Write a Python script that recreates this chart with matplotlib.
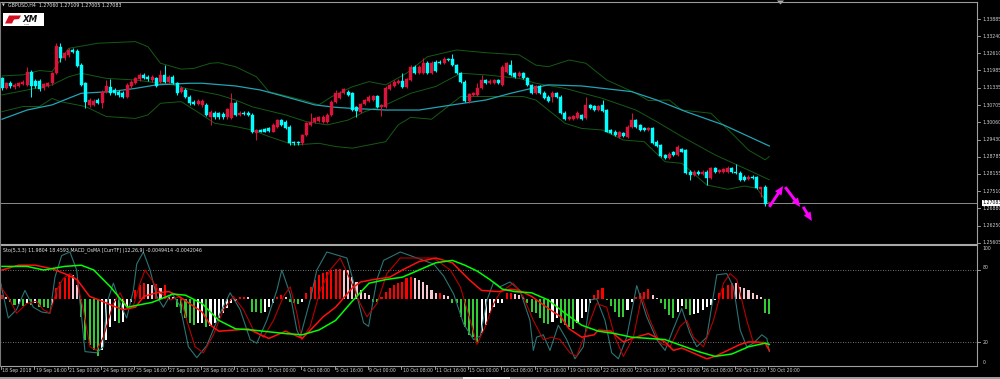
import matplotlib
matplotlib.use("Agg")
import matplotlib.pyplot as plt
import matplotlib.transforms as mtransforms
from matplotlib.lines import Line2D
from matplotlib.patches import Rectangle, Polygon, FancyArrowPatch
import numpy as np

# ---------------- DATA ----------------
symbol_header = "GBPUSD,H4  1.27060 1.27109 1.27005 1.27083"
sub_header = "Sto(5,3,3) 11.9804 18.4593 MACD_OsMA [CurrTF] (12,26,9) -0.0049414 -0.0042046"
current_price = 1.27083

open_ = [1.3169,1.3132,1.3153,1.3136,1.3141,1.3148,1.3145,1.3194,1.3161,1.3161,
 1.3132,1.3141,1.3151,1.3188,1.3286,1.3243,1.3256,1.3274,1.3272,1.3219,
 1.3151,1.3071,1.3071,1.3089,1.3077,1.3120,1.3136,1.3126,1.3120,1.3116,
 1.3102,1.3139,1.3153,1.3166,1.3182,1.3175,1.3163,1.3169,1.3157,1.3182,
 1.3157,1.3175,1.3151,1.3120,1.3126,1.3102,1.3083,1.3074,1.3071,1.3071,
 1.3028,1.3042,1.3040,1.3038,1.3025,1.3021,1.3079,1.3034,1.3042,1.3042,
 1.3034,1.2966,1.2978,1.2981,1.2985,1.2972,1.2991,1.3015,1.3009,1.2991,
 1.2935,1.2932,1.2929,1.2960,1.2997,1.3009,1.3013,1.3009,1.3009,1.3034,
 1.3083,1.3095,1.3114,1.3120,1.3114,1.3062,1.3046,1.3074,1.3087,1.3089,
 1.3104,1.3062,1.3065,1.3129,1.3141,1.3151,1.3161,1.3136,1.3163,1.3212,
 1.3190,1.3190,1.3227,1.3188,1.3231,1.3231,1.3225,1.3240,1.3240,1.3219,
 1.3188,1.3157,1.3087,1.3108,1.3108,1.3132,1.3163,1.3151,1.3151,1.3163,
 1.3145,1.3194,1.3219,1.3188,1.3178,1.3188,1.3169,1.3145,1.3114,1.3141,
 1.3116,1.3102,1.3102,1.3114,1.3102,1.3042,1.3018,1.3018,1.3021,1.3034,
 1.3021,1.3071,1.3067,1.3052,1.3071,1.3052,1.2978,1.2972,1.2954,1.2966,
 1.2954,1.2991,1.3015,1.2997,1.2985,1.2978,1.2985,1.2935,1.2923,1.2886,
 1.2874,1.2895,1.2886,1.2907,1.2904,1.2824,1.2812,1.2824,1.2816,1.2824,
 1.2800,1.2837,1.2822,1.2824,1.2824,1.2837,1.2824,1.2821,1.2806,1.2796,
 1.2806,1.2803,1.2759,1.2769,1.27060]
close = [1.3132,1.3151,1.3139,1.3145,1.3151,1.3157,1.3194,1.3139,1.3139,1.3129,
 1.3148,1.3151,1.3188,1.3290,1.3243,1.3262,1.3274,1.3268,1.3215,1.3145,
 1.3083,1.3089,1.3087,1.3079,1.3120,1.3139,1.3114,1.3114,1.3108,1.3102,
 1.3145,1.3157,1.3169,1.3182,1.3169,1.3166,1.3175,1.3139,1.3182,1.3157,
 1.3175,1.3151,1.3114,1.3132,1.3102,1.3077,1.3074,1.3087,1.3087,1.3034,
 1.3046,1.3025,1.3025,1.3028,1.3055,1.3079,1.3034,1.3042,1.3038,1.3034,
 1.2969,1.2978,1.2972,1.2972,1.2976,1.2997,1.3015,1.2997,1.2985,1.2929,
 1.2929,1.2929,1.2960,1.3003,1.3009,1.3021,1.3025,1.3028,1.3034,1.3083,
 1.3114,1.3116,1.3129,1.3108,1.3052,1.3050,1.3074,1.3089,1.3102,1.3104,
 1.3065,1.3071,1.3132,1.3145,1.3157,1.3161,1.3136,1.3166,1.3212,1.3188,
 1.3212,1.3225,1.3188,1.3227,1.3198,1.3225,1.3240,1.3237,1.3219,1.3188,
 1.3157,1.3087,1.3111,1.3114,1.3132,1.3163,1.3151,1.3161,1.3163,1.3151,
 1.3212,1.3225,1.3182,1.3175,1.3190,1.3169,1.3145,1.3114,1.3141,1.3114,
 1.3095,1.3087,1.3116,1.3102,1.3040,1.3018,1.3025,1.3030,1.3042,1.3018,
 1.3071,1.3058,1.3052,1.3067,1.3050,1.2972,1.2966,1.2960,1.2969,1.2956,
 1.2991,1.3015,1.2991,1.2978,1.2978,1.2985,1.2929,1.2919,1.2882,1.2874,
 1.2890,1.2886,1.2917,1.2898,1.2821,1.2812,1.2824,1.2816,1.2824,1.2800,
 1.2837,1.2824,1.2830,1.2834,1.2839,1.2824,1.2818,1.2794,1.2794,1.2806,
 1.2800,1.2763,1.2766,1.2705,1.27083]
high = [1.3175,1.3157,1.3161,1.3151,1.3157,1.3163,1.3212,1.3200,1.3166,1.3166,
 1.3153,1.3156,1.3193,1.3299,1.3299,1.3268,1.3280,1.3280,1.3277,1.3225,
 1.3157,1.3095,1.3092,1.3095,1.3126,1.3163,1.3166,1.3132,1.3126,1.3123,
 1.3151,1.3163,1.3175,1.3188,1.3188,1.3180,1.3180,1.3175,1.3200,1.3219,
 1.3180,1.3180,1.3157,1.3139,1.3132,1.3107,1.3089,1.3092,1.3092,1.3077,
 1.3052,1.3047,1.3045,1.3045,1.3060,1.3114,1.3084,1.3047,1.3047,1.3047,
 1.3040,1.2983,1.2983,1.2986,1.2988,1.3003,1.3020,1.3020,1.3015,1.2996,
 1.2939,1.2939,1.2964,1.3008,1.3040,1.3028,1.3030,1.3033,1.3040,1.3089,
 1.3126,1.3121,1.3134,1.3126,1.3119,1.3067,1.3079,1.3094,1.3107,1.3109,
 1.3109,1.3074,1.3139,1.3151,1.3163,1.3166,1.3188,1.3171,1.3217,1.3217,
 1.3217,1.3243,1.3232,1.3232,1.3237,1.3236,1.3249,1.3245,1.3259,1.3224,
 1.3193,1.3163,1.3116,1.3119,1.3151,1.3182,1.3168,1.3166,1.3168,1.3168,
 1.3217,1.3231,1.3237,1.3193,1.3195,1.3193,1.3174,1.3150,1.3146,1.3146,
 1.3121,1.3107,1.3121,1.3119,1.3107,1.3047,1.3030,1.3035,1.3047,1.3039,
 1.3102,1.3076,1.3072,1.3072,1.3089,1.3057,1.2983,1.2977,1.2973,1.2971,
 1.2996,1.3042,1.3020,1.3002,1.2989,1.2989,1.2989,1.2940,1.2928,1.2891,
 1.2895,1.2900,1.2922,1.2912,1.2909,1.2829,1.2829,1.2829,1.2829,1.2829,
 1.2843,1.2842,1.2835,1.2839,1.2844,1.2842,1.2853,1.2826,1.2811,1.2811,
 1.2811,1.2808,1.2769,1.2774,1.27109]
low = [1.3126,1.3129,1.3132,1.3129,1.3136,1.3143,1.3141,1.3102,1.3132,1.3124,
 1.3126,1.3136,1.3145,1.3184,1.3231,1.3237,1.3249,1.3264,1.3210,1.3141,
 1.3058,1.3065,1.3067,1.3074,1.3058,1.3114,1.3108,1.3108,1.3102,1.3095,
 1.3098,1.3135,1.3148,1.3161,1.3166,1.3161,1.3157,1.3136,1.3153,1.3153,
 1.3153,1.3147,1.3108,1.3114,1.3098,1.3072,1.3070,1.3070,1.3065,1.3030,
 1.2997,1.3020,1.3020,1.3020,1.3020,1.3018,1.3030,1.3030,1.3033,1.3030,
 1.2966,1.2941,1.2969,1.2969,1.2972,1.2969,1.2987,1.2993,1.2981,1.2923,
 1.2924,1.2924,1.2924,1.2956,1.2993,1.3005,1.3008,1.3005,1.3005,1.3030,
 1.3079,1.3092,1.3110,1.3104,1.3049,1.3028,1.3042,1.3071,1.3083,1.3087,
 1.3061,1.3030,1.3061,1.3125,1.3137,1.3147,1.3132,1.3132,1.3160,1.3184,
 1.3187,1.3187,1.3184,1.3184,1.3194,1.3221,1.3221,1.3233,1.3215,1.3184,
 1.3153,1.3083,1.3079,1.3104,1.3104,1.3129,1.3147,1.3147,1.3147,1.3147,
 1.3141,1.3190,1.3178,1.3172,1.3174,1.3166,1.3141,1.3110,1.3110,1.3110,
 1.3092,1.3083,1.3083,1.3098,1.3036,1.3014,1.3014,1.3014,1.3018,1.3014,
 1.3018,1.3055,1.3049,1.3049,1.3046,1.2969,1.2962,1.2956,1.2950,1.2953,
 1.2950,1.2987,1.2987,1.2975,1.2975,1.2975,1.2925,1.2916,1.2879,1.2870,
 1.2870,1.2882,1.2882,1.2895,1.2817,1.2794,1.2808,1.2812,1.2812,1.2775,
 1.2796,1.2821,1.2818,1.2821,1.2821,1.2821,1.2815,1.2790,1.2790,1.2792,
 1.2796,1.2759,1.2732,1.2698,1.27005]

# Moving average (cyan) and Bollinger bands (dark green), read at sample bars
ma_x = [0,6,12,19,26,32,37,45,48,56,62,68,75,80,84,92,100,108,116,122,127,131,139,151,157,164,173,184]
ma_y = [1.3018,1.3052,1.3071,1.3114,1.3120,1.3132,1.3145,1.3151,1.3151,1.3141,1.3126,1.3101,1.3071,1.3062,
        1.3058,1.3052,1.3052,1.3071,1.3089,1.3114,1.3132,1.3145,1.3141,1.3120,1.3089,1.3046,1.2997,1.2919]
bbu_x = [0,5,9,12,16,23,32,35,38,43,46,50,52,56,61,64,72,76,79,84,88,92,97,102,109,116,124,128,131,136,140,145,
         152,155,160,163,170,175,179,183,184]
bbu_y = [1.3178,1.3182,1.3198,1.3194,1.3280,1.3299,1.3305,1.3286,1.3225,1.3203,1.3206,1.3225,1.3227,1.3212,1.3175,
         1.3120,1.3089,1.3071,1.3101,1.3138,1.3157,1.3145,1.3188,1.3249,1.3274,1.3264,1.3256,1.3218,1.3212,1.3237,
         1.3225,1.3163,1.3114,1.3087,1.3089,1.3052,1.3040,1.2966,1.2904,1.2868,1.2880]
bbm_x = [0,8,12,16,19,25,32,38,41,44,52,56,60,68,73,78,83,87,92,98,104,110,116,124,128,135,144,152,157,163,171,179,184]
bbm_y = [1.3108,1.3132,1.3145,1.3175,1.3188,1.3169,1.3163,1.3151,1.3145,1.3132,1.3108,1.3089,1.3064,1.3034,1.3009,
         1.2997,1.3015,1.3046,1.3071,1.3114,1.3139,1.3188,1.3182,1.3169,1.3151,1.3132,1.3095,1.3052,1.3009,1.2954,
         1.2886,1.2830,1.2794]
bbl_x = [0,5,9,12,14,20,25,32,35,38,43,48,51,56,60,64,70,76,80,84,88,92,95,98,103,110,116,125,128,135,139,144,149,
         154,159,163,169,174,178,181,183,184]
bbl_y = [1.3046,1.3065,1.3065,1.3095,1.3083,1.3065,1.3028,1.3021,1.3034,1.3077,1.3083,1.3034,1.3003,1.2991,1.2978,
         1.2954,1.2923,1.2929,1.2917,1.2911,1.2923,1.2935,1.2997,1.3025,1.3018,1.3102,1.3102,1.3102,1.3089,1.3003,
         1.2984,1.2978,1.2941,1.2935,1.2861,1.2855,1.2775,1.2759,1.2771,1.2763,1.2720,1.2708]

# forecast arrows (magenta): (bar, price) tail -> head
arrow_tail_x = [184.0, 187.8, 192.1]
arrow_tail_y = [1.2694, 1.2767, 1.2694]
arrow_head_x = [187.3, 191.4, 194.2]
arrow_head_y = [1.2771, 1.2694, 1.2642]

price_ticks = [1.33885,1.33240,1.32610,1.31985,1.31335,1.30705,1.30060,1.29430,1.28785,1.28155,1.27510,1.26880,1.26250,1.25605]
price_tick_labels = ["1.33885","1.33240","1.32610","1.31985","1.31335","1.30705","1.30060","1.29430","1.28785",
                     "1.28155","1.27510","1.26880","1.26250","1.25605"]

date_labels = ["18 Sep 2018","19 Sep 16:00","21 Sep 00:00","24 Sep 08:00","25 Sep 16:00","27 Sep 00:00",
               "28 Sep 08:00","1 Oct 16:00","3 Oct 00:00","4 Oct 08:00","5 Oct 16:00","9 Oct 00:00",
               "10 Oct 08:00","11 Oct 16:00","15 Oct 00:00","16 Oct 08:00","17 Oct 16:00","19 Oct 00:00",
               "22 Oct 08:00","23 Oct 16:00","25 Oct 00:00","26 Oct 08:00","29 Oct 12:00","30 Oct 20:00"]

# OsMA histogram (points, 1e-5)
osma = [9,5,-5,-11,-9,-13,-8,-11,-8,-15,
 -16,-17,-11,22,35,42,51,49,29,-35,
 -81,-91,-101,-113,-101,-81,-55,-43,-47,-45,
 -15,-5,19,29,32,31,29,30,22,29,
 5,4,-15,-28,-38,-48,-51,-48,-47,-55,
 -53,-48,-38,-28,-18,-8,-3,4,5,4,
 -25,-25,-27,-25,-15,-8,5,9,5,-5,
 -8,-9,-5,12,25,39,49,52,55,59,
 60,61,59,58,45,34,19,12,9,-5,
 -5,5,15,22,29,32,35,42,45,42,
 39,35,29,19,12,12,9,7,-8,-8,
 -35,-55,-71,-75,-85,-68,-51,-28,-15,-8,
 -7,12,12,11,9,5,-7,-25,-28,-38,
 -48,-49,-45,-38,-48,-51,-55,-60,-48,-38,
 -25,-7,9,19,22,-1,-13,-25,-35,-36,
 -21,-5,5,12,15,20,9,2,-8,-20,
 -31,-38,-25,-13,-20,-31,-30,-28,-21,-15,
 -11,-1,12,22,29,33,32,25,22,19,
 12,9,4,-28,-29]

# Stochastic main (teal)
sto_main_x = [-0.5,1.5,3.5,5.5,7.5,9.5,11.5,12.7,14.3,16.3,17.9,19.1,19.9,22.7,24.3,25.1,26.7,28.7,29.9,31.5,32.3,
 33.9,35.5,37.1,38.7,40.7,42.7,44.7,46.7,49.1,52.3,54.7,57.1,59.5,61.1,63.5,65.9,67.1,69.1,70.7,71.5,73.9,75.5,
 77.9,82.7,84.3,86.7,87.9,89.9,91.5,95.5,99.5,103.5,105.9,108.3,110.7,113.1,114.7,116.3,117.9,119.4,121.8,124.2,
 126.6,127.4,128.2,129.8,131.4,133.4,135.4,137.4,139.4,141,142.6,144.6,146.2,147.8,149.8,152.2,154.6,157,159,
 161,163,165,166.6,169,171.4,173.8,175.4,177,178.6,180.2,182.2,183.4,184]
sto_main_y = [72,40,47,63,49,45,44,74,92,95,80,40,12,11,16,52,69,49,40,63,85,
 95,80,58,49,61,50,16,7,17,44,61,47,22,19,38,63,80,60,30,24,55,80,
 95,90,70,36,33,72,88,95,90,85,75,60,35,22,25,55,70,66,70,63,
 38,13,24,26,13,34,22,6,16,55,56,38,11,6,24,67,41,22,13,
 31,48,27,16,24,76,77,66,30,16,19,26,23,12]
# Stochastic signal (dark red)
sto_sig_x = [-0.5,1.9,3.5,5.9,8.3,9.9,11.5,13.1,14.7,16.3,17.9,19.5,21.1,22.7,24.3,26.7,28.3,30.3,31.5,33.1,34.3,35.9,
 37.9,40.3,42.7,44.3,46.3,48.3,50.7,53.1,55.5,57.9,60.3,62.7,65.1,67.5,69.1,70.7,71.9,73.9,76.3,78.7,81.1,83.5,
 85.9,87.5,89.9,92.3,95.5,103.5,107.5,109.9,112.3,113.9,115.9,117.9,119.4,122.6,125,127.4,129.8,131.8,133.8,
 136.2,137.8,140.2,142.6,145,147,149,151.4,153.4,155.4,157.8,160.2,162.6,164.2,165.8,168.2,170.6,173,174.6,
 176.2,178.6,180.2,182.6,184]
sto_sig_y = [67,55,44,52,54,47,44,63,73,77,72,47,16,13,24,52,61,47,50,69,80,72,
 61,55,58,38,16,11,26,47,58,47,30,24,38,58,66,44,22,33,63,80,90,72,
 52,41,52,77,90,90,80,66,38,18,33,52,61,69,58,38,22,24,22,
 11,8,30,52,49,24,8,24,58,38,19,16,33,38,24,16,38,69,77,
 72,38,19,20,18]
# Slow lines (bright red, bright green)
slow_red_x = [0,4,8,12,15,18,21,24,26,29,32,34,37,40,42,45,48,50,52,56,59,62,64,68,70,72,74,77,80,84,86,89,93,96,
 100,104,108,112,115,119,122,124,127,131,134,136,139,142,143,146,149,151,155,159,161,163,165,167,169,171,174,
 177,179,181,183,184]
slow_red_y = [80,84,84,81,77,72,58,54,51,47,49,58,61,62,59,52,45,34,29,30,31,26,23,29,26,23,30,41,49,65,70,72,74,80,
 87,90,86,72,63,62,64,63,58,48,41,31,24,26,30,29,20,23,27,20,13,15,12,9,6,8,13,
 18,20,20,19,13]
slow_green_x = [0,6,10,15,19,22,26,30,36,41,44,48,52,56,60,68,72,76,80,84,88,92,96,100,104,108,111,114,117,120,123,
 127,131,135,139,143,147,151,155,159,163,167,171,175,179,183,184]
slow_green_y = [83,83,80,83,84,80,66,49,53,60,59,52,38,31,30,27,26,30,38,54,69,72,74,80,86,88,84,79,72,64,62,
 61,55,44,34,29,27,24,23,22,17,12,8,10,16,19,18]

# ---------------- FIGURE ----------------
W, H = 1000, 379
fig = plt.figure(figsize=(W / 100, H / 100), dpi=100, facecolor="black")


def fy(ypx):
    return 1 - ypx / H


XR = 977  # right edge of plot area (px)
XLIM = (-0.48, 233.8)
YTOP, YBOT = 1.34477, 1.25530

ax = fig.add_axes([0, fy(245), XR / W, (245 - 3) / H])
ax.set_facecolor("black")
ax.set_xlim(*XLIM)
ax.set_ylim(YBOT, YTOP)
ax.axis("off")

idx = np.arange(len(close))
o = np.array(open_); c = np.array(close); hi = np.array(high); lo = np.array(low)
bull = c >= o
cols = np.where(bull, "#dc143c", "#00ffff")
# indicator lines
ax.plot(bbu_x, bbu_y, color="#155a15", lw=0.7, zorder=1)
ax.plot(bbm_x, bbm_y, color="#155a15", lw=0.7, zorder=1)
ax.plot(bbl_x, bbl_y, color="#155a15", lw=0.7, zorder=1)
ax.plot(ma_x, ma_y, color="#22a3b3", lw=0.9, zorder=1)
ax.axhline(current_price, color="#8c8c8c", lw=0.7, zorder=1)
ax.vlines(idx, lo, hi, colors=cols, lw=0.7, zorder=2)
ax.bar(idx, np.abs(c - o), bottom=np.minimum(o, c), width=0.72, color=cols,
       edgecolor=cols, linewidth=0.3, zorder=3)
for tx, ty, hx, hy in zip(arrow_tail_x, arrow_tail_y, arrow_head_x, arrow_head_y):
    ax.add_patch(FancyArrowPatch((tx, ty), (hx, hy),
                                 arrowstyle="simple,head_length=0.9,head_width=0.8,tail_width=0.3",
                                 mutation_scale=7, color="#ff00ff", lw=0, shrinkA=0, shrinkB=0,
                                 zorder=5))

# price axis labels
tr = mtransforms.blended_transform_factory(ax.transAxes, ax.transData)
for p, s in zip(price_ticks, price_tick_labels):
    ax.plot([1.0, 1.003], [p, p], color="#b0b0b0", lw=0.6, transform=tr, clip_on=False)
    ax.text(1.0055, p, s, color="#d0d0d0", fontsize=3.3, va="center", ha="left",
            transform=tr, clip_on=False)
ax.text(1.0055, current_price, "1.27083", color="black", fontsize=3.3, va="center", ha="left",
        transform=tr, clip_on=False,
        bbox=dict(boxstyle="square,pad=0.15", fc="white", ec="white", lw=0))

# ---------------- LOWER PANEL ----------------
rect2 = [0, fy(366), XR / W, 120 / H]
axh = fig.add_axes(rect2)
axh.set_facecolor("black")
axh.set_xlim(*XLIM)
axh.set_ylim(-134, 106)
axh.axis("off")
hcols = []
prev = 0
for v in osma:
    if v >= 0:
        hcols.append("#ff0000" if v >= prev else "#f5c8d0")
    else:
        hcols.append("#32cd32" if v <= prev else "#ffffff")
    prev = v
axh.bar(idx, osma, width=0.5, color=hcols, linewidth=0)

ax2 = fig.add_axes(rect2)
ax2.set_facecolor("none")
ax2.set_xlim(*XLIM)
ax2.set_ylim(0, 100)
ax2.axis("off")
for lv in (80, 20):
    ax2.axhline(lv, color="#9a9a9a", lw=0.6, ls=(0, (1, 2)))
ax2.plot(sto_main_x, sto_main_y, color="#2c7474", lw=0.8)
ax2.plot(sto_sig_x, sto_sig_y, color="#b80000", lw=0.8)
ax2.plot(slow_red_x, slow_red_y, color="#ff1010", lw=1.1)
ax2.plot(slow_green_x, slow_green_y, color="#00ff00", lw=1.1)

tr2 = mtransforms.blended_transform_factory(ax2.transAxes, ax2.transData)
for v, s in [(98.3, "100"), (81.7, "80"), (20, "20"), (2.5, "0")]:
    ax2.text(1.0055, v, s, color="#d0d0d0", fontsize=3.3, va="center", ha="left",
             transform=tr2, clip_on=False)
for lv in (80, 20):
    ax2.plot([1.0, 1.003], [lv, lv], color="#b0b0b0", lw=0.6, transform=tr2, clip_on=False)

# date labels
trd = mtransforms.blended_transform_factory(ax2.transData, ax2.transAxes)
for k, s in enumerate(date_labels):
    xb = k * 8
    ax2.plot([xb - 0.25, xb - 0.25], [0, -0.025], color="#b0b0b0", lw=0.6, transform=trd, clip_on=False)
    ax2.text(xb + 0.1, -0.035, s, color="#d0d0d0", fontsize=3.3, va="center", ha="left",
             transform=trd, clip_on=False)

# ---------------- FRAME / DECOR ----------------
def fline(x0, y0, x1, y1, color="#a0a0a0", lw=0.8):
    fig.add_artist(Line2D([x0 / W, x1 / W], [fy(y0), fy(y1)], transform=fig.transFigure,
                          color=color, lw=lw))

fline(0, 1.8, XR, 1.8, "#9a9a9a", 0.8)
fline(0, 245, XR, 245, "#a8a8a8", 1.5)
fline(0, 365.6, XR, 365.6, "#a0a0a0", 0.8)
fline(XR, 1.8, XR, 366, "#a0a0a0", 0.8)
fline(0.4, 1.8, 0.4, 366, "#7a7a7a", 0.8)

fig.add_artist(Rectangle((0, 0), 1, 2.5 / H, transform=fig.transFigure, fc="#9c9c9c", ec="none"))
fig.add_artist(Rectangle((463 / W, 0), 47 / W, 2.5 / H, transform=fig.transFigure, fc="#ececec", ec="none"))
fig.add_artist(Polygon([[777 / W, fy(0.5)], [784 / W, fy(0.5)], [780.5 / W, fy(4.5)]],
                       closed=True, transform=fig.transFigure, fc="#b0b0b0", ec="none"))

fig.text(2 / W, fy(5.6), "\u25BC", color="#d0d0d0", fontsize=2.6, va="center", ha="left")
fig.text(8 / W, fy(5.6), symbol_header, color="#e8e8e8", fontsize=3.4, va="center", ha="left")
fig.text(3 / W, fy(250.5), sub_header, color="#e8e8e8", fontsize=3.4, va="center", ha="left")

# XM logo
fig.add_artist(Rectangle((3 / W, fy(26)), 41 / W, 13 / H, transform=fig.transFigure, fc="white", ec="none"))
fig.add_artist(Polygon([[5 / W, fy(23.5)], [9 / W, fy(15.5)], [21 / W, fy(15.5)], [19 / W, fy(19)],
                        [14 / W, fy(19.5)], [12 / W, fy(23.5)]],
                       closed=True, transform=fig.transFigure, fc="#d01020", ec="none"))
fig.text(22.5 / W, fy(19.2), "XM", color="#111111", fontsize=6.2, fontweight="bold", fontstyle="italic",
         va="center", ha="left")
fig.text(23.5 / W, fy(24.3), "GROUP", color="#333333", fontsize=1.3, va="center", ha="left")

fig.savefig("out.png", dpi=100, facecolor="black")
